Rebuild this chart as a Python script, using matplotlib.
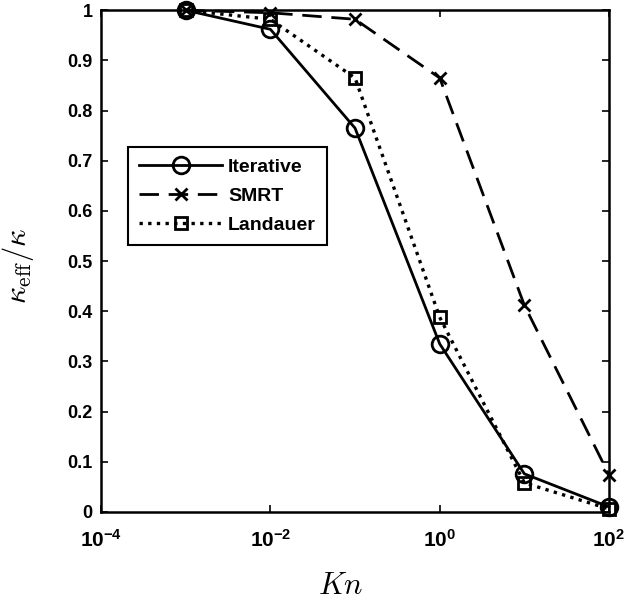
import matplotlib
matplotlib.use("Agg")
import matplotlib.pyplot as plt
import matplotlib.transforms as mtransforms
from matplotlib.ticker import FixedLocator, FixedFormatter

plt.rcParams["mathtext.fontset"] = "cm"
plt.rcParams["mathtext.rm"] = "Liberation Sans"
plt.rcParams["mathtext.bf"] = "Liberation Sans:bold"
plt.rcParams["font.family"] = ["Liberation Sans", "DejaVu Sans"]

# Knudsen numbers and normalised effective conductivity
kn = [1e-3, 1e-2, 1e-1, 1e0, 1e1, 1e2]
iterative = [1.0, 0.962, 0.765, 0.335, 0.076, 0.010]
smrt = [1.0, 0.995, 0.982, 0.865, 0.412, 0.074]
landauer = [1.0, 0.982, 0.865, 0.388, 0.058, 0.006]

x_ticks = [1e-4, 1e-2, 1e0, 1e2]
x_labels = ["$\\mathbf{10^{-4}}$", "$\\mathbf{10^{-2}}$", "$\\mathbf{10^{0}}$", "$\\mathbf{10^{2}}$"]
y_ticks = [0, 0.1, 0.2, 0.3, 0.4, 0.5, 0.6, 0.7, 0.8, 0.9, 1.0]
y_labels = ["0", "0.1", "0.2", "0.3", "0.4", "0.5", "0.6", "0.7", "0.8", "0.9", "1"]

fig = plt.figure(figsize=(6.24, 6.03), dpi=100)
ax = fig.add_axes([0.162, 0.151, 0.814, 0.832])

ax.plot(kn, iterative, color="black", linestyle="-", linewidth=2.0,
        marker="o", markersize=12, markerfacecolor="none",
        markeredgewidth=2.0, label="Iterative", clip_on=False, zorder=3)
ax.plot(kn, smrt, color="black", linestyle=(0, (7, 3.5)), linewidth=2.0,
        marker="x", markersize=9, markeredgewidth=2.0,
        label="SMRT", clip_on=False, zorder=3)
ax.plot(kn, landauer, color="black", linestyle=(0, (1, 1.6)), linewidth=2.4,
        marker="s", markersize=8, markerfacecolor="none",
        markeredgewidth=2.0, label="Landauer", clip_on=False, zorder=3)

ax.set_xscale("log")
ax.set_xlim(1e-4, 1e2)
ax.set_ylim(0, 1)
ax.xaxis.set_major_locator(FixedLocator(x_ticks))
ax.xaxis.set_major_formatter(FixedFormatter(x_labels))
ax.xaxis.set_minor_locator(FixedLocator([]))
ax.set_yticks(y_ticks)
ax.set_yticklabels(y_labels)

ax.tick_params(axis="both", which="major", direction="in", length=5,
               width=1.2, top=True, right=True, labelsize=13, pad=6)
ax.tick_params(axis="x", labelsize=15, pad=12)
fig.canvas.draw()
for lab in ax.get_yticklabels() + ax.get_xticklabels():
    lab.set_fontweight("bold")
for lab in ax.get_xticklabels():
    lab.set_math_fontfamily("custom")

# keep the rightmost exponent label inside the figure
last_tick = ax.xaxis.get_major_ticks()[-1]
last_tick.label1.set_horizontalalignment("right")
last_tick.label1.set_transform(last_tick.label1.get_transform() +
                               mtransforms.ScaledTranslation(16 / 100, 0, fig.dpi_scale_trans))

for sp in ax.spines.values():
    sp.set_linewidth(1.8)

ax.set_xlabel("$Kn$", fontsize=22)
ax.xaxis.set_label_coords(0.472, -0.118)
ax.set_ylabel("$\\kappa_{\\rm eff}/\\kappa$", fontsize=22)
ax.yaxis.set_label_coords(-0.128, 0.49)

leg = ax.legend(loc="upper left", bbox_to_anchor=(0.053, 0.727),
                borderaxespad=0.0,
                numpoints=1, handlelength=4.3, handletextpad=0.3,
                borderpad=0.55, labelspacing=0.6, fancybox=False,
                framealpha=1, edgecolor="black",
                prop={"weight": "bold", "size": 14})
leg.get_frame().set_linewidth(1.5)

fig.savefig("out.png", dpi=100)
